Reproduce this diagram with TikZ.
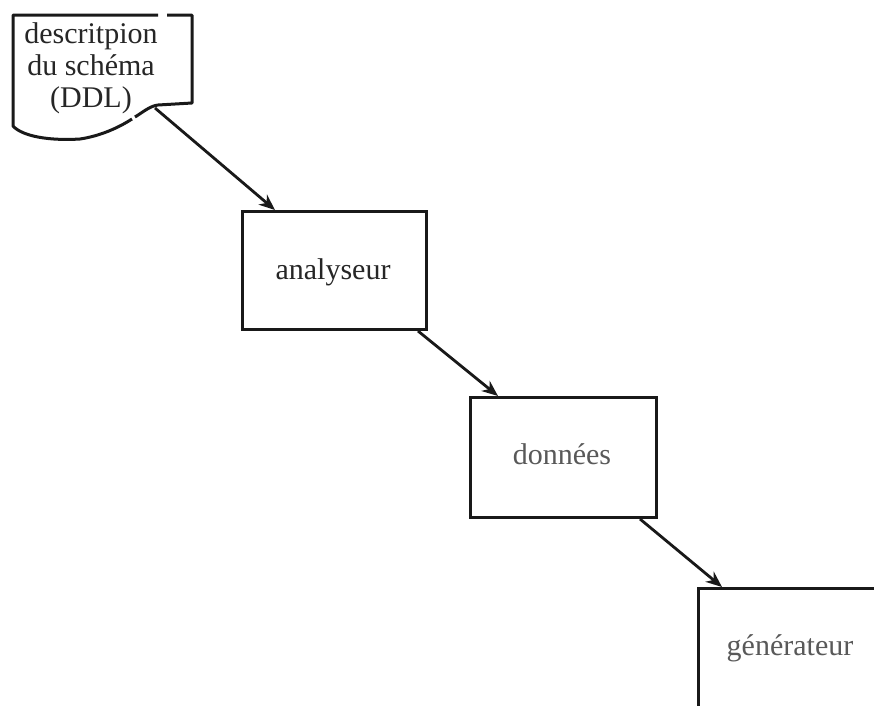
\documentclass[tikz,border=0pt]{standalone}
\usepackage{fontspec}
\setmainfont{Liberation Serif}
\usetikzlibrary{arrows.meta,calc}
\begin{document}
\begin{tikzpicture}[x=1pt,y=-1pt,
  box/.style={draw=black!90,line width=3pt,inner sep=0pt},
  lbl/.style={font=\fontsize{30}{32}\selectfont,inner sep=0pt},
  conn/.style={draw=black!90,line width=2.8pt,-{Stealth[length=16pt,width=13pt,inset=5pt]}},
  docline/.style={draw=black!90,line width=3pt,line join=round}]
\useasboundingbox (0,0) rectangle (874,705);
\clip (0,0) rectangle (874,705);
\fill[white] (0,0) rectangle (874,705);
% document shape
\draw[docline] (158,15) -- (13,15) -- (13,126) .. controls (22,136) and (48,141) .. (80,139)
  .. controls (100,136) and (118,128) .. (132,119);
\draw[docline] (135,117) .. controls (143,112) and (150,106) .. (158,105) -- (192,103) -- (192,15) -- (167,15);
\node[lbl,align=center,text=black!85] (doc) at (91,68) {descritpion\\du schéma\\(DDL)};
\coordinate (docout) at (155,108);
% boxes
\node[box,minimum width=184pt,minimum height=118pt,anchor=north west] (ana) at (241,210) {};
\node[lbl,text=black!85] (anat) at (333,272) {analyseur};
\node[box,minimum width=186pt,minimum height=120pt,anchor=north west] (don) at (469,396) {};
\node[lbl,text=black!65] (dont) at (562,454) {données};
\node[box,minimum width=220pt,minimum height=150pt,anchor=north west] (gen) at (697,587) {};
\node[lbl,text=black!65] (gent) at (790,648) {générateur};
% connectors
\draw[conn] (docout) -- ([xshift=34pt]ana.north west);
\draw[conn] ([xshift=-10pt]ana.south east) -- ([xshift=29pt]don.north west);
\draw[conn] ([xshift=-18pt]don.south east) -- ([xshift=25pt]gen.north west);
\end{tikzpicture}
\end{document}
